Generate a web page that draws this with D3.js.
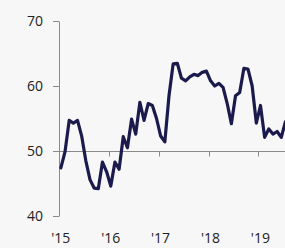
<!DOCTYPE html>
<html>
<head>
<meta charset="utf-8">
<script src="https://cdn.jsdelivr.net/npm/d3@7"></script>
<style>
  html, body { margin: 0; padding: 0; background: #f7f7f7; }
  svg { display: block; font-family: "Open Sans", sans-serif; }
</style>
</head>
<body>
<svg width="285" height="248"></svg>
<script>
// monthly index values, Jan 2015 .. Jul 2019
const values = [
  47.4, 49.9, 54.7, 54.3, 54.7, 52.3, 48.5, 45.6, 44.3, 44.2, 48.3, 46.8,
  44.6, 48.3, 47.2, 52.2, 50.5, 54.9, 52.6, 57.5, 54.7, 57.3, 57.0, 55.0,
  52.3, 51.4, 58.5, 63.4, 63.5, 61.2, 60.8, 61.4, 61.8, 61.6, 62.1, 62.3,
  60.8, 60.0, 60.4, 59.8, 57.3, 54.2, 58.5, 59.0, 62.7, 62.6, 60.0, 54.3,
  57.0, 52.1, 53.4, 52.6, 53.0, 52.1, 54.5
];
const startYear = 2015;
const years = [2015, 2016, 2017, 2018, 2019];
const yearLabels = ["'15", "'16", "'17", "'18", "'19"];
const yTicks = [40, 50, 60, 70];

const svg = d3.select('svg');
const width = 285, height = 248;

const x = d3.scaleLinear()
    .domain([2015, 2020])
    .range([58.8, 58.8 + 5 * 49.9]);

const y = d3.scaleLinear()
    .domain([40, 70])
    .range([216, 21]);

// y axis
const yAxis = svg.append('g')
    .attr('transform', 'translate(59,0)')
    .call(d3.axisLeft(y).tickValues(yTicks).tickSize(6).tickSizeOuter(0).tickPadding(10));
yAxis.select('.domain').attr('stroke', '#8a8a8a');
yAxis.selectAll('.tick line').attr('stroke', '#8a8a8a');
yAxis.selectAll('.tick text')
    .attr('fill', '#222')
    .style('font-size', '14px')
    .style('font-family', '"Open Sans", sans-serif');

// baseline at 50 with year ticks
const base = Math.round(y(50)) + 0.5;
svg.append('line')
    .attr('x1', 59).attr('x2', width)
    .attr('y1', base).attr('y2', base)
    .attr('stroke', '#8a8a8a');

svg.append('g').selectAll('line')
  .data(years.slice(1))
  .join('line')
    .attr('x1', d => Math.round(x(d)) + 0.5)
    .attr('x2', d => Math.round(x(d)) + 0.5)
    .attr('y1', base).attr('y2', base + 5)
    .attr('stroke', '#8a8a8a');

svg.append('g').selectAll('text')
  .data(years)
  .join('text')
    .attr('x', (d, i) => x(d) + 2)
    .attr('y', 243)
    .attr('text-anchor', 'middle')
    .attr('fill', '#222')
    .style('font-size', '14px')
    .text((d, i) => yearLabels[i]);

// the series
const line = d3.line()
    .x((d, i) => x(startYear + (i + 0.5) / 12))
    .y(d => y(d));

svg.append('path')
    .datum(values)
    .attr('d', line)
    .attr('fill', 'none')
    .attr('stroke', '#1b1a4c')
    .attr('stroke-width', 3.2)
    .attr('stroke-linejoin', 'round')
    .attr('stroke-linecap', 'round');
</script>
</body>
</html>
